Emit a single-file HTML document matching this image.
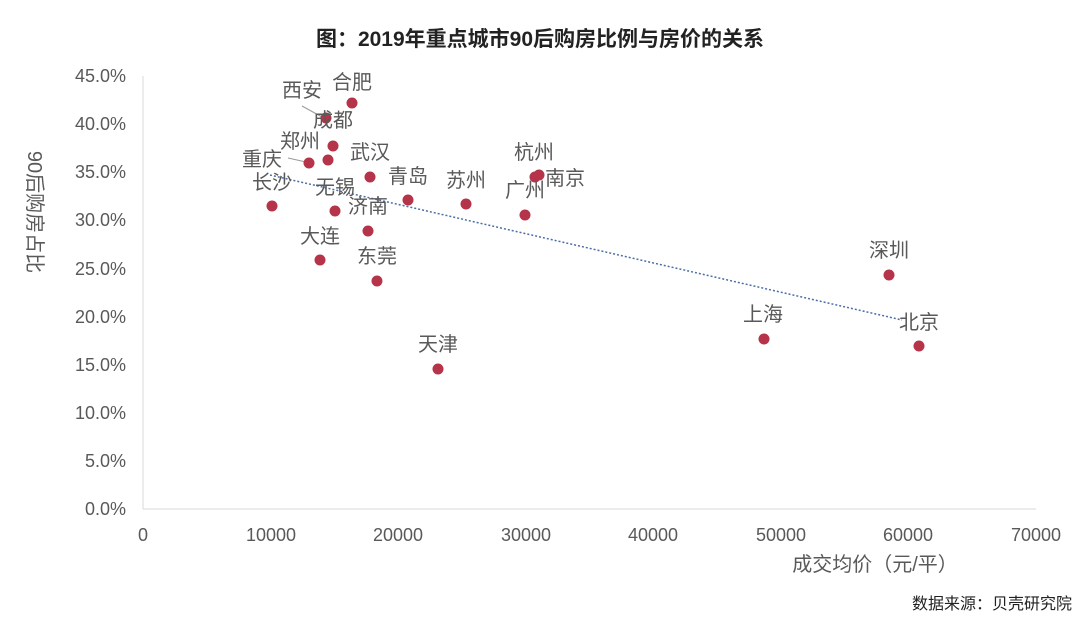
<!DOCTYPE html>
<html><head><meta charset="utf-8"><style>
body{margin:0;background:#fff;}
svg text{font-family:"Liberation Sans","Noto Sans CJK SC",sans-serif;fill:#595959;}
</style></head><body>
<svg width="1080" height="619" viewBox="0 0 1080 619" xmlns="http://www.w3.org/2000/svg">
<text x="540" y="46" text-anchor="middle" font-size="21" font-weight="bold" style="fill:#222">图：2019年重点城市90后购房比例与房价的关系</text>
<line x1="143" y1="509" x2="1036" y2="509" stroke="#d9d9d9" stroke-width="1"/>
<line x1="143" y1="76" x2="143" y2="509" stroke="#d9d9d9" stroke-width="1"/>
<g font-size="18" text-anchor="end">
<text x="126" y="515">0.0%</text><text x="126" y="467">5.0%</text><text x="126" y="419">10.0%</text><text x="126" y="371">15.0%</text><text x="126" y="323">20.0%</text><text x="126" y="275">25.0%</text><text x="126" y="226">30.0%</text><text x="126" y="178">35.0%</text><text x="126" y="130">40.0%</text><text x="126" y="82">45.0%</text>
</g>
<g font-size="18" text-anchor="middle">
<text x="143" y="541">0</text><text x="271" y="541">10000</text><text x="398" y="541">20000</text><text x="526" y="541">30000</text><text x="653" y="541">40000</text><text x="781" y="541">50000</text><text x="908" y="541">60000</text><text x="1036" y="541">70000</text>
</g>
<text x="875" y="571" text-anchor="middle" font-size="20">成交均价（元/平）</text>
<text transform="translate(28,212) rotate(90)" text-anchor="middle" font-size="20">90后购房占比</text>
<text x="1072" y="609" text-anchor="end" font-size="16" style="fill:#222">数据来源：贝壳研究院</text>
<line x1="270" y1="175" x2="902" y2="320" stroke="#4a6fa5" stroke-width="1.5" stroke-dasharray="2,2"/>
<line x1="302" y1="106" x2="322" y2="117" stroke="#999" stroke-width="1"/>
<line x1="288" y1="158" x2="306" y2="162" stroke="#999" stroke-width="1"/>
<g fill="#b5344a">
<circle cx="352" cy="103" r="5.5"/><circle cx="326" cy="118" r="5.5"/><circle cx="333" cy="146" r="5.5"/><circle cx="328" cy="160" r="5.5"/><circle cx="309" cy="163" r="5.5"/><circle cx="370" cy="177" r="5.5"/><circle cx="272" cy="206" r="5.5"/><circle cx="335" cy="211" r="5.5"/><circle cx="408" cy="200" r="5.5"/><circle cx="466" cy="204" r="5.5"/><circle cx="535" cy="177" r="5.5"/><circle cx="539" cy="175" r="5.5"/><circle cx="525" cy="215" r="5.5"/><circle cx="368" cy="231" r="5.5"/><circle cx="320" cy="260" r="5.5"/><circle cx="377" cy="281" r="5.5"/><circle cx="438" cy="369" r="5.5"/><circle cx="764" cy="339" r="5.5"/><circle cx="889" cy="275" r="5.5"/><circle cx="919" cy="346" r="5.5"/>
</g>
<g font-size="20" text-anchor="middle">
<text x="352" y="89">合肥</text><text x="302" y="97">西安</text><text x="333" y="127">成都</text><text x="300" y="148">郑州</text><text x="262" y="166">重庆</text><text x="370" y="159">武汉</text><text x="272" y="189">长沙</text><text x="335" y="194">无锡</text><text x="408" y="183">青岛</text><text x="466" y="187">苏州</text><text x="534" y="159">杭州</text><text x="565" y="185">南京</text><text x="525" y="197">广州</text><text x="368" y="213">济南</text><text x="320" y="243">大连</text><text x="377" y="263">东莞</text><text x="438" y="351">天津</text><text x="763" y="321">上海</text><text x="889" y="257">深圳</text><text x="919" y="329">北京</text>
</g>
</svg>
</body></html>
